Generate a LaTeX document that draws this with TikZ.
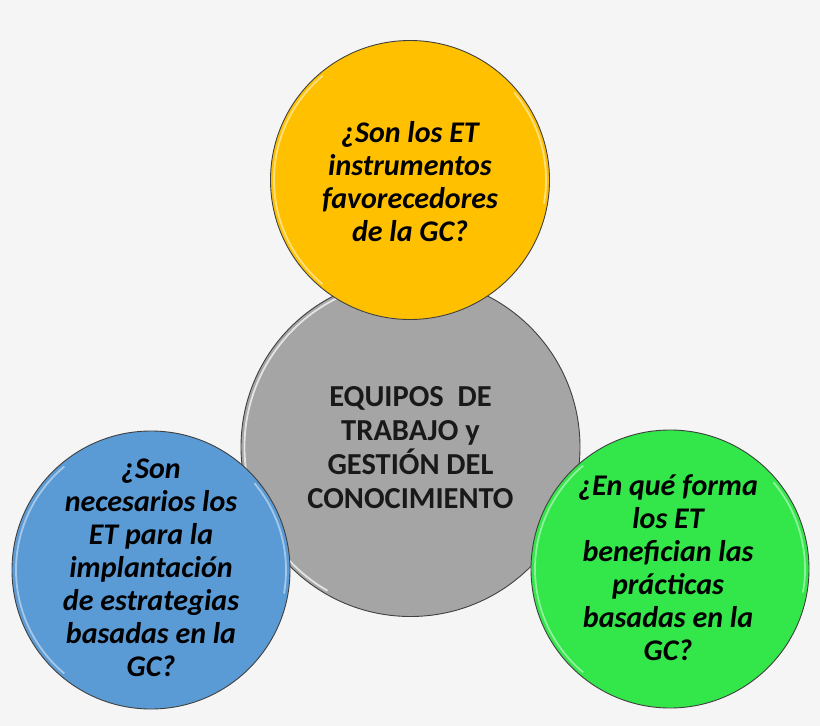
\documentclass[tikz,border=0pt]{standalone}
\usepackage{fontspec}
\setmainfont{Carlito}
\definecolor{bgc}{HTML}{F5F5F5}
\definecolor{yel}{HTML}{FFC000}
\definecolor{gry}{HTML}{A5A5A5}
\definecolor{blu}{HTML}{5B9BD5}
\definecolor{grn}{HTML}{33E64A}
\tikzset{
  bubble/.style={circle, draw=black!75, line width=0.9pt, minimum size=#1, inner sep=0pt},
  qtext/.style={align=center, font=\fontsize{30}{33}\selectfont\bfseries\itshape, text=black},
  ctext/.style={align=center, font=\fontsize{30.5}{34}\selectfont\bfseries, text=black!90}
}
\begin{document}
\begin{tikzpicture}[x=1pt,y=-1pt]
\fill[bgc] (0,0) rectangle (820,726);
\useasboundingbox (0,0) rectangle (820,726);
% centre
\node[bubble=339pt, fill=gry] (c) at (410.5,447) {};
\draw[white!70!gry, line width=1.8pt] (c.center) ++(120:166) arc[start angle=120, end angle=250, radius=166];
\node[ctext] (ct) at (410.5,448) {EQUIPOS\ \ DE\\TRABAJO y\\GESTIÓN DEL\\CONOCIMIENTO};
% top
\node[bubble=279pt, fill=yel] (t) at (410,180) {};
\draw[white!50!yel, line width=1.8pt] (t.center) ++(130:136) arc[start angle=130, end angle=230, radius=136];
\draw[white!50!yel, line width=1.8pt] (t.center) ++(-40:136) arc[start angle=-40, end angle=10, radius=136];
\node[qtext] (tt) at (410,182) {¿Son los ET\\instrumentos\\favorecedores\\de la GC?};
% left
\node[bubble=278pt, fill=blu] (l) at (151,570) {};
\draw[white!45!blu, line width=1.8pt] (l.center) ++(130:135) arc[start angle=130, end angle=230, radius=135];
\draw[white!45!blu, line width=1.8pt] (l.center) ++(-40:135) arc[start angle=-40, end angle=10, radius=135];
\node[qtext] (lt) at (151,568) {¿Son\\necesarios los\\ET para la\\implantación\\de estrategias\\basadas en la\\GC?};
% right
\node[bubble=278pt, fill=grn] (r) at (670,569) {};
\draw[white!45!grn, line width=1.8pt] (r.center) ++(130:135) arc[start angle=130, end angle=230, radius=135];
\draw[white!45!grn, line width=1.8pt] (r.center) ++(-40:135) arc[start angle=-40, end angle=10, radius=135];
\node[qtext] (rt) at (668,568) {¿En qué forma\\los ET\\benefician las\\prácticas\\basadas en la\\GC?};
\end{tikzpicture}
\end{document}
